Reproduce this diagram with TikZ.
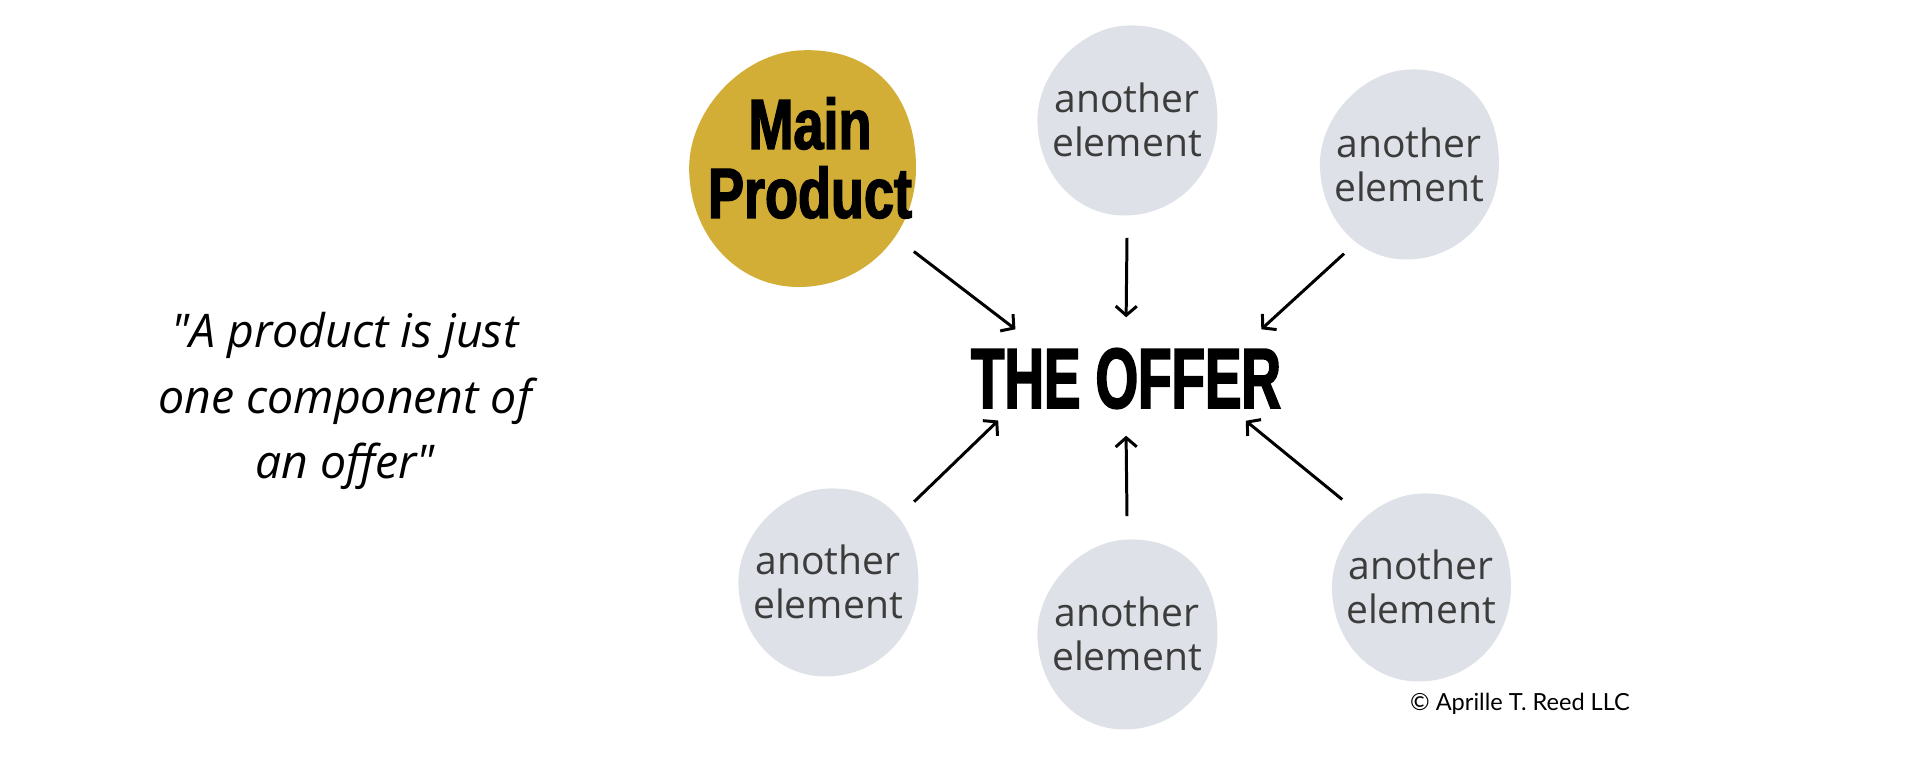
\documentclass[tikz,border=0pt]{standalone}
\usepackage{fontspec}
\setmainfont{Open Sans}
\newfontfamily\quotefont{Open Sans}
\newfontfamily\offerfont[FakeStretch=0.64,FakeBold=2]{Liberation Sans Bold}
\newfontfamily\prodfont[FakeStretch=0.76,FakeBold=2]{Liberation Sans Bold}
\newfontfamily\creditfont{Lato}
\definecolor{BlobGold} {RGB}{211,174,55}
\definecolor{BlobGrey} {RGB}{222,226,232}
\definecolor{ElemText} {RGB}{60,60,60}
\usetikzlibrary{arrows.meta,positioning}

\tikzset{
  elem/.style={circle,minimum size=2.34cm,inner sep=0pt,align=center,
               text=ElemText,font=\fontsize{11.1}{12.5}\selectfont},
  mainprod/.style={circle,minimum size=2.78cm,inner sep=0pt,align=center,
               font=\prodfont\fontsize{20.2}{19.6}\selectfont},
  offerbox/.style={rectangle,minimum width=3.3cm,minimum height=0.97cm,
               inner sep=0pt,font=\offerfont\fontsize{24.3}{26}\selectfont},
  arr/.style={-{Straight Barb[length=2.6pt,width=6pt]},line width=0.85pt}
}

\begin{document}
\begin{tikzpicture}[x=0.01cm,y=-0.01cm]
  \useasboundingbox (0,0) rectangle (1920,766);
  %% Blobs
  \foreach \cx/\cy/\sx/\sy/\col in {
      802/168/114/119/BlobGold,
      1127/120/90.5/95.5/BlobGrey,
      1409/164/90/95.5/BlobGrey,
      828/582/90.5/94.5/BlobGrey,
      1127/634/90.5/95.5/BlobGrey,
      1421/587/90/94.5/BlobGrey}{
    \fill[\col,shift={(\cx,\cy)},xscale=\sx,yscale=\sy]
      (1,0) .. controls (1,0.56) and (0.55,1) .. (-0.03,1)
      .. controls (-0.58,1) and (-0.99,0.55) .. (-0.99,0)
      .. controls (-0.99,-0.5) and (-0.5,-0.99) .. (0.03,-0.99)
      .. controls (0.62,-1) and (1,-0.62) .. (1,0) -- cycle;
  }
  %% Centre and elements
  \node[offerbox] (offer) at (1126,378.5) {THE OFFER};
  \node[mainprod] (main) at (810,158) {Main\\Product};
  \foreach \name/\x/\y in {top/1127/120, topr/1409/165, botl/828/582,
                           bot/1127/634, botr/1421/587}{
    \node[elem] (\name) at (\x,\y) {another\\element};
  }
  %% Arrows
  \draw[arr] (main.-42.7) -- (offer.156.9);
  \draw[arr,shorten >=0.12cm] (top.south) -- (offer.north);
  \draw[arr,shorten <=-0.08cm] (topr.-127.9) -- (offer.20.9);
  \draw[arr,shorten >=-0.104cm] (botl.43.3) -- (offer.200.4);
  \draw[arr,shorten >=0.08cm] (bot.north) -- (offer.south);
  \draw[arr,shorten >=-0.11cm] (botr.132.2) -- (offer.339.2);
  %% Quote and credit
  \node[align=center,font=\quotefont\itshape\fontsize{13.2}{18.6}\selectfont]
    (quote) at (345,401) {"A product is just\\one component of\\an offer"};
  \node[font=\creditfont\fontsize{6.7}{8}\selectfont]
    (credit) at (1520,704) {\textcopyright{} Aprille T. Reed LLC};
\end{tikzpicture}
\end{document}
